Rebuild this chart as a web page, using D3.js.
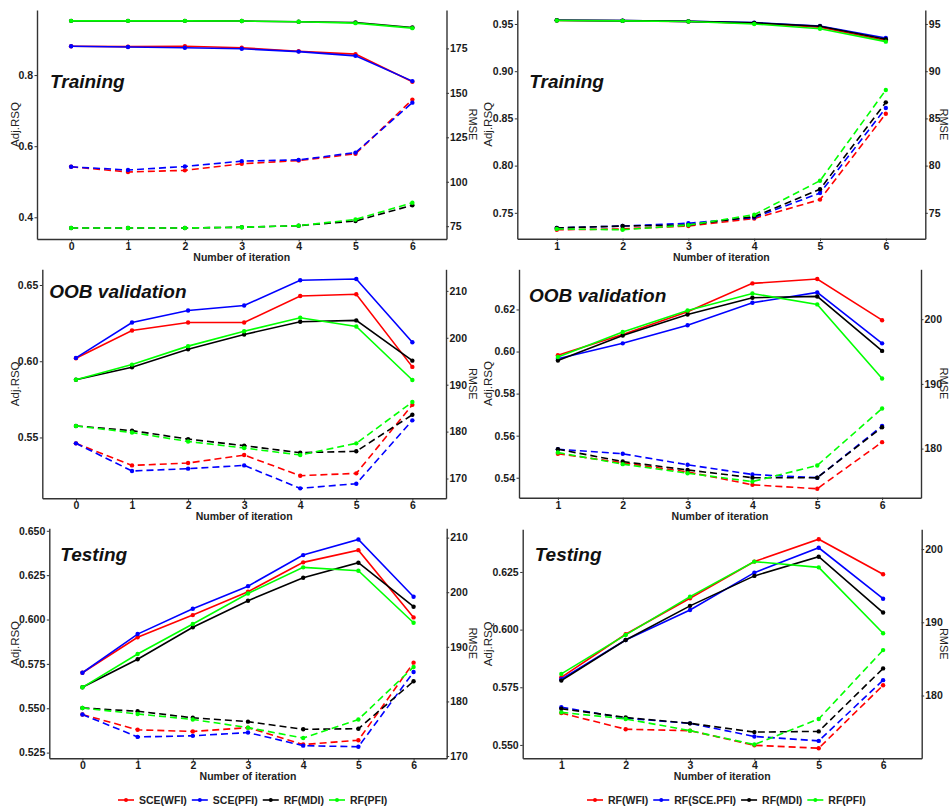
<!DOCTYPE html>
<html>
<head>
<meta charset="utf-8">
<script src="https://cdn.jsdelivr.net/npm/d3@7"></script>
<style>
  body { margin: 0; background: #fff; }
  svg text { font-family: "Liberation Sans", Arial, sans-serif; }
</style>
</head>
<body>
<div id="chart"></div>
<script>
var width = 949;
var height = 808;

// ---- data ----
var colors = ["#ff0000", "#0000ff", "#000000", "#00ff00"];
var leftSeries = ["SCE(WFI)", "SCE(PFI)", "RF(MDI)", "RF(PFI)"];
var rightSeries = ["RF(WFI)", "RF(SCE.PFI)", "RF(MDI)", "RF(PFI)"];
var leftIter = [0, 1, 2, 3, 4, 5, 6];
var rightIter = [1, 2, 3, 4, 5, 6];

// series order in every block: red, blue, black, green
var trainLeftRsq = [
  [0.881, 0.880, 0.881, 0.877, 0.867, 0.859, 0.781],
  [0.881, 0.879, 0.877, 0.874, 0.866, 0.854, 0.783],
  [0.9525, 0.9525, 0.9525, 0.952, 0.950, 0.948, 0.934],
  [0.9525, 0.9525, 0.9525, 0.952, 0.950, 0.946, 0.932]
];
var trainLeftRmse = [
  [108.4, 105.5, 106.4, 110.1, 111.9, 115.7, 146.2],
  [108.4, 106.6, 108.6, 111.6, 112.3, 116.4, 144.5],
  [74.0, 74.0, 74.0, 74.4, 75.3, 77.9, 86.8],
  [74.0, 74.0, 74.0, 74.4, 75.3, 78.8, 88.2]
];
var trainRightRsq = [
  [0.9537, 0.9533, 0.9526, 0.9508, 0.9465, 0.9325],
  [0.9539, 0.9535, 0.9528, 0.9514, 0.9479, 0.9352],
  [0.9539, 0.9535, 0.9528, 0.9512, 0.9476, 0.9338],
  [0.9537, 0.9533, 0.9526, 0.9500, 0.9450, 0.9313]
];
var trainRightRmse = [
  [73.2, 73.3, 73.6, 74.4, 76.4, 85.5],
  [73.4, 73.6, 73.9, 74.5, 77.1, 86.1],
  [73.4, 73.6, 73.7, 74.6, 77.5, 86.7],
  [73.3, 73.2, 73.7, 74.8, 78.4, 88.0]
];
var oobLeftRsq = [
  [0.602, 0.6202, 0.6254, 0.6254, 0.6428, 0.6439, 0.5963],
  [0.6022, 0.6254, 0.6333, 0.6366, 0.6531, 0.6539, 0.6125],
  [0.5879, 0.5961, 0.6079, 0.6175, 0.6259, 0.6268, 0.6004],
  [0.5879, 0.5978, 0.6099, 0.6197, 0.6285, 0.6228, 0.5877]
];
var oobLeftRmse = [
  [177.5, 172.8, 173.3, 175.0, 170.6, 171.1, 185.7],
  [177.5, 171.6, 172.1, 172.8, 167.9, 168.9, 182.4],
  [181.2, 180.2, 178.4, 177.0, 175.5, 175.8, 183.6],
  [181.2, 179.8, 177.9, 176.5, 175.0, 177.5, 186.3]
];
var oobRightRsq = [
  [0.5982, 0.6081, 0.6189, 0.6324, 0.6345, 0.6149],
  [0.5966, 0.6039, 0.6125, 0.6232, 0.6281, 0.6039],
  [0.5957, 0.6076, 0.6176, 0.6256, 0.6262, 0.6003],
  [0.5974, 0.6093, 0.6195, 0.6276, 0.6224, 0.5872]
];
var oobRightRmse = [
  [179.2, 177.8, 176.4, 174.4, 173.8, 181.0],
  [179.9, 179.2, 177.5, 176.0, 175.5, 183.5],
  [179.9, 178.0, 176.7, 175.5, 175.5, 183.3],
  [179.4, 177.6, 176.2, 174.9, 177.4, 186.2]
];
var testLeftRsq = [
  [0.570, 0.590, 0.6025, 0.6157, 0.6322, 0.6391, 0.6012],
  [0.570, 0.5918, 0.6061, 0.6188, 0.6363, 0.6451, 0.6128],
  [0.5618, 0.5776, 0.5956, 0.6106, 0.6235, 0.632, 0.6072],
  [0.5618, 0.5806, 0.5975, 0.6147, 0.6294, 0.6275, 0.5982]
];
var testLeftRmse = [
  [177.6, 174.8, 174.5, 175.2, 172.1, 172.9, 187.1],
  [177.6, 173.5, 173.7, 174.3, 171.9, 171.7, 185.4],
  [178.8, 178.2, 177.0, 176.3, 174.9, 175.0, 183.7],
  [178.8, 177.7, 176.7, 175.2, 173.3, 176.7, 186.3]
];
var testRightRsq = [
  [0.5793, 0.598, 0.6136, 0.6295, 0.6392, 0.624],
  [0.5785, 0.5955, 0.6085, 0.6247, 0.6355, 0.6134],
  [0.5779, 0.5955, 0.6103, 0.6233, 0.6316, 0.6074],
  [0.5808, 0.5977, 0.6143, 0.6295, 0.627, 0.5984]
];
var testRightRmse = [
  [177.6, 175.4, 175.2, 173.2, 172.8, 181.4],
  [178.4, 176.9, 176.2, 174.4, 173.8, 182.1],
  [178.2, 177.0, 176.2, 175.0, 175.1, 183.7],
  [177.7, 176.8, 175.2, 173.3, 176.8, 186.2]
];

// tick values
var trainLeftTicks = [0.4, 0.6, 0.8], trainLeftRmseTicks = [75, 100, 125, 150, 175];
var trainRightTicks = [0.75, 0.80, 0.85, 0.90, 0.95], trainRightRmseTicks = [75, 80, 85, 90, 95];
var oobLeftTicks = [0.55, 0.60, 0.65], oobLeftRmseTicks = [170, 180, 190, 200, 210];
var oobRightTicks = [0.54, 0.56, 0.58, 0.60, 0.62], oobRightRmseTicks = [180, 190, 200];
var testLeftTicks = [0.525, 0.550, 0.575, 0.600, 0.625, 0.650], testLeftRmseTicks = [170, 180, 190, 200, 210];
var testRightTicks = [0.550, 0.575, 0.600, 0.625], testRightRmseTicks = [180, 190, 200];

// ---- layout ----
var panels = [
  {title: "Training", iter: leftIter, rsq: trainLeftRsq, rmse: trainLeftRmse, ticks: trainLeftTicks, rticks: trainLeftRmseTicks,
   fmt: ".1f", box: [37, 10, 446.5, 239], domain: [0.339, 0.983], factor: 200, tx: 13, ty: 78, rmseX: 473},
  {title: "Training", iter: rightIter, rsq: trainRightRsq, rmse: trainRightRmse, ticks: trainRightTicks, rticks: trainRightRmseTicks,
   fmt: ".2f", box: [517.3, 10, 925.3, 238.7], domain: [0.7226, 0.9648], factor: 100, tx: 12, ty: 78, rmseX: 944},
  {title: "OOB validation", iter: leftIter, rsq: oobLeftRsq, rmse: oobLeftRmse, ticks: oobLeftTicks, rticks: oobLeftRmseTicks,
   fmt: ".2f", box: [42.3, 269.3, 446, 498.3], domain: [0.5101, 0.6603], factor: 325, tx: 7, ty: 29, rmseX: 473},
  {title: "OOB validation", iter: rightIter, rsq: oobRightRsq, rmse: oobRightRmse, ticks: oobRightTicks, rticks: oobRightRmseTicks,
   fmt: ".2f", box: [519, 269.3, 921, 497.7], domain: [0.5305, 0.6391], factor: 325, tx: 10, ty: 33, rmseX: 944},
  {title: "Testing", iter: leftIter, rsq: testLeftRsq, rmse: testLeftRmse, ticks: testLeftTicks, rticks: testLeftRmseTicks,
   fmt: ".3f", box: [49.3, 528.3, 446.7, 758.3], domain: [0.5218, 0.6514], factor: 325, tx: 11, ty: 33, rmseX: 473},
  {title: "Testing", iter: rightIter, rsq: testRightRsq, rmse: testRightRmse, ticks: testRightTicks, rticks: testRightRmseTicks,
   fmt: ".3f", box: [522.7, 529.3, 921.7, 758.3], domain: [0.5442, 0.6435], factor: 315, tx: 12, ty: 32, rmseX: 944}
];

var svg = d3.select("#chart").append("svg")
  .attr("width", width)
  .attr("height", height)
  .attr("viewBox", "0 0 " + width + " " + height);

var axisColor = "#333";

var drawPanel = function(p){
  var x0 = p.box[0], y0 = p.box[1], x1 = p.box[2], y1 = p.box[3];

  var x = d3.scalePoint().domain(p.iter).range([x0, x1]).padding(0.6);
  var y = d3.scaleLinear().domain(p.domain).range([y1, y0]);
  var y2 = d3.scaleLinear().domain([p.domain[0] * p.factor, p.domain[1] * p.factor]).range([y1, y0]);

  var g = svg.append("g");

  // axes
  var styleAxis = function(sel){
    sel.select(".domain").attr("stroke", axisColor).attr("stroke-width", 1.4);
    sel.selectAll(".tick line").attr("stroke", axisColor).attr("stroke-width", 1);
    sel.selectAll(".tick text").attr("font-size", 10.5).attr("font-weight", "bold")
      .attr("fill", "#1a1a1a").attr("font-family", "'Liberation Sans', Arial, sans-serif");
  };

  g.append("g").attr("transform", "translate(0," + y1 + ")")
    .call(d3.axisBottom(x).tickSize(2.5).tickSizeOuter(0).tickPadding(1))
    .call(styleAxis);

  g.append("g").attr("transform", "translate(" + x0 + ",0)")
    .call(d3.axisLeft(y).tickValues(p.ticks).tickFormat(d3.format(p.fmt)).tickSize(2.5).tickSizeOuter(0).tickPadding(1.5))
    .call(styleAxis);

  g.append("g").attr("transform", "translate(" + x1 + ",0)")
    .call(d3.axisRight(y2).tickValues(p.rticks).tickFormat(d3.format("d")).tickSize(2.5).tickSizeOuter(0).tickPadding(1))
    .call(styleAxis);

  // axis titles
  g.append("text")
    .attr("x", (x0 + x1) / 2).attr("y", y1 + 22)
    .attr("text-anchor", "middle").attr("font-size", 10.5).attr("font-weight", "bold")
    .attr("fill", "#222").text("Number of iteration");

  g.append("text")
    .attr("transform", "translate(" + (x0 < 300 ? 15 : 488) + "," + (y0 + y1) / 2 + ") rotate(-90)")
    .attr("text-anchor", "middle").attr("dominant-baseline", "central")
    .attr("font-size", 11.5).attr("fill", "#222").text("Adj.RSQ");

  g.append("text")
    .attr("transform", "translate(" + p.rmseX + "," + (y0 + y1) / 2 + ") rotate(90)")
    .attr("text-anchor", "middle").attr("dominant-baseline", "central")
    .attr("font-size", 11).attr("fill", "#222").text("RMSE");

  // panel title
  g.append("text")
    .attr("x", x0 + p.tx).attr("y", y0 + p.ty)
    .attr("font-family", "Lato, 'Open Sans', sans-serif")
    .attr("font-size", 19).attr("font-weight", "bold").attr("font-style", "italic")
    .attr("fill", "#111").text(p.title);

  var rsqLine = d3.line().x(function(d, i){ return x(p.iter[i]); }).y(function(d){ return y(d); });
  var rmseLine = d3.line().x(function(d, i){ return x(p.iter[i]); }).y(function(d){ return y2(d); });

  // dashed RMSE lines
  p.rmse.forEach(function(vals, s){
    g.append("path").attr("d", rmseLine(vals))
      .attr("fill", "none").attr("stroke", colors[s]).attr("stroke-width", 1.6)
      .attr("stroke-dasharray", "7,4");
    g.selectAll(null).data(vals).enter().append("circle")
      .attr("cx", function(d, i){ return x(p.iter[i]); })
      .attr("cy", function(d){ return y2(d); })
      .attr("r", 2.2).attr("fill", colors[s]);
  });

  // solid Adj.RSQ lines
  p.rsq.forEach(function(vals, s){
    g.append("path").attr("d", rsqLine(vals))
      .attr("fill", "none").attr("stroke", colors[s]).attr("stroke-width", 1.6);
    g.selectAll(null).data(vals).enter().append("circle")
      .attr("cx", function(d, i){ return x(p.iter[i]); })
      .attr("cy", function(d){ return y(d); })
      .attr("r", 2.2).attr("fill", colors[s]);
  });
};

panels.forEach(drawPanel);

// legends
var drawLegend = function(names, startX, ly){
  var lg = svg.append("g");
  var cx = startX;
  names.forEach(function(name, i){
    lg.append("line").attr("x1", cx).attr("x2", cx + 16).attr("y1", ly).attr("y2", ly)
      .attr("stroke", colors[i]).attr("stroke-width", 1.6);
    lg.append("circle").attr("cx", cx + 8).attr("cy", ly).attr("r", 2).attr("fill", colors[i]);
    var t = lg.append("text").attr("x", cx + 21).attr("y", ly).attr("dominant-baseline", "central")
      .attr("font-size", 10.5).attr("font-weight", "bold").attr("fill", "#222").text(name);
    cx += 21 + t.node().getComputedTextLength() + 5;
  });
};

drawLegend(leftSeries, 118, 800);
drawLegend(rightSeries, 587, 800);
</script>
</body>
</html>
